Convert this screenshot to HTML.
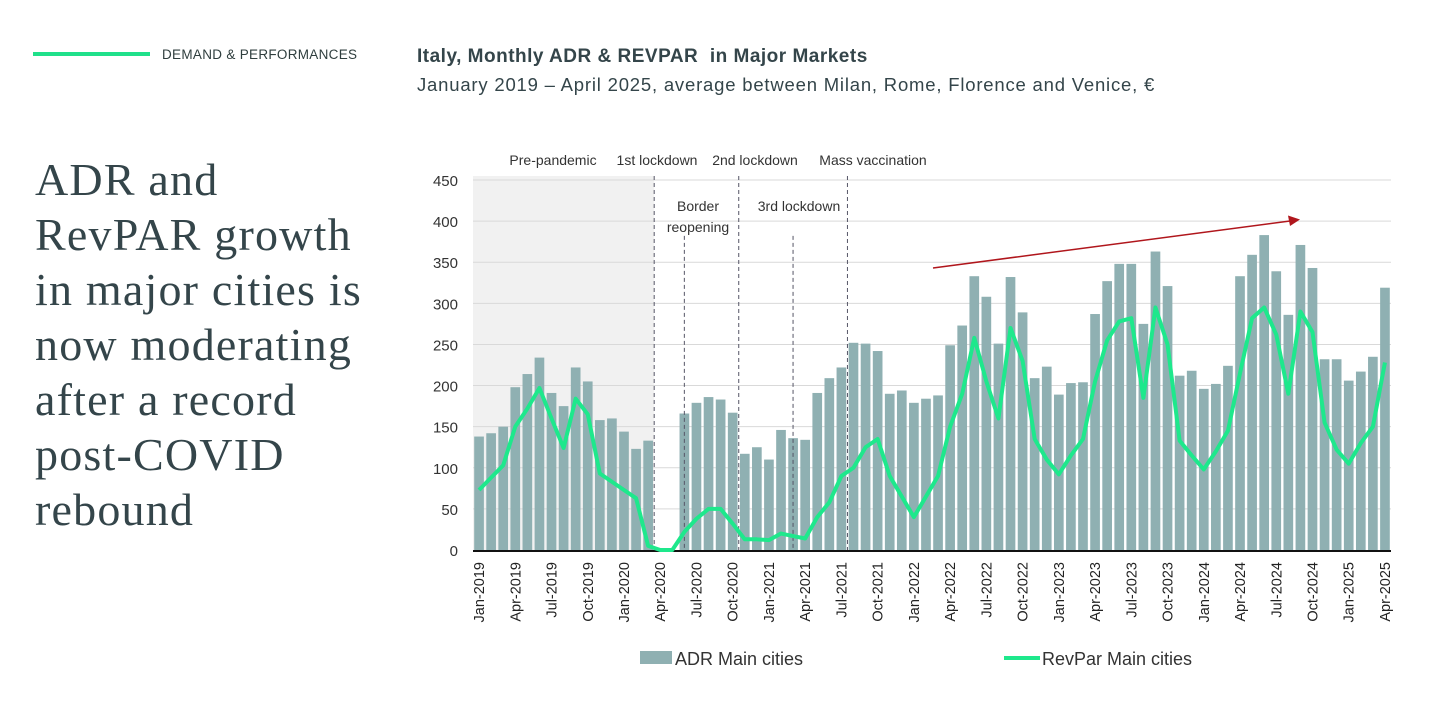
<!DOCTYPE html>
<html><head><meta charset="utf-8"><style>
body{margin:0;width:1456px;height:705px;background:#fff;overflow:hidden;position:relative;font-family:"Liberation Sans",sans-serif;color:#2f3e3e}
.abs{position:absolute}
</style></head><body>
<div class="abs" style="left:33px;top:52px;width:117px;height:4px;background:#1fe08a"></div>
<div class="abs" style="left:162px;top:47px;font-size:13.5px;color:#2f3e3e;letter-spacing:0.3px">DEMAND &amp; PERFORMANCES</div>
<div class="abs" style="left:417px;top:46px;font-size:19px;font-weight:bold;color:#34454a;letter-spacing:0.5px">Italy, Monthly ADR &amp; REVPAR&nbsp; in Major Markets</div>
<div class="abs" style="left:417px;top:74px;font-size:18.5px;color:#34454a;letter-spacing:0.8px">January 2019 – April 2025, average between Milan, Rome, Florence and Venice, €</div>
<div class="abs" style="left:35px;top:152px;font-family:'Liberation Serif',serif;font-size:46px;line-height:55px;color:#34454a;letter-spacing:1.2px">ADR and<br>RevPAR growth<br>in major cities is<br>now moderating<br>after a record<br>post-COVID<br>rebound</div>
<svg class="abs" style="left:0;top:0" width="1456" height="705" id="chart"></svg>
<script>
const months=["Jan","Feb","Mar","Apr","May","Jun","Jul","Aug","Sep","Oct","Nov","Dec"];
const categories=[];for(let y=2019;y<=2025;y++)for(let m=0;m<12;m++){if(y===2025&&m>3)break;categories.push(months[m]+"-"+y);}
const adrValues=[138,142,150,198,214,234,191,175,222,205,158,160,
144,123,133,0,0,166,179,186,183,167,117,125,
110,146,136,134,191,209,222,252,251,242,190,194,
179,184,188,249,273,333,308,251,332,289,209,223,
189,203,204,287,327,348,348,275,363,321,212,218,
196,202,224,333,359,383,339,286,371,343,232,232,
206,217,235,319];
const revparValues=[73,88,103,150,172,197,160,124,184,165,93,83,
73,63,5,0,0,22,38,50,50,32,13,13,
12,20,17,14,40,58,90,100,125,135,90,65,
40,65,90,150,190,258,205,160,270,230,135,110,
92,115,135,205,255,278,282,185,295,250,133,115,
98,120,145,215,282,295,262,190,290,265,155,122,
105,130,150,228];
const yTicks=[0,50,100,150,200,250,300,350,400,450];
const NS="http://www.w3.org/2000/svg";
const svg=document.getElementById('chart');
const X0=473,X1=1391,Y0=550,Y1=180,YMAX=450;
const step=(X1-X0)/categories.length;
const xc=i=>X0+(i+0.5)*step;
const xb=i=>X0+i*step;
const y=v=>Y0-(v/YMAX)*(Y0-Y1);
function mk(t,a,p){const e=document.createElementNS(NS,t);for(const k in a)e.setAttribute(k,a[k]);(p||svg).appendChild(e);return e;}
let sh=mk('rect',{x:X0,y:y(450)-4,width:xb(15)-X0,height:Y0-y(450)+4,fill:'#f1f1f1'});


yTicks.forEach(t=>{
 if(t>0){const g=mk('line',{x1:X0,x2:X1,y1:y(t),y2:y(t),stroke:'#d9d9d9','stroke-width':1});
 
 }
 const l=mk('text',{x:458,y:y(t)+6,'text-anchor':'end','font-size':15,fill:'#333'});l.textContent=t;
 
 
});
adrValues.forEach((v,i)=>{
 const r=mk('rect',{x:xb(i)+1.2,y:y(v),width:step-2.4,height:Y0-y(v),fill:'#8fb0b2'});
 
 
});
const ax=mk('line',{x1:X0,x2:X1,y1:Y0+1,y2:Y0+1,stroke:'#111','stroke-width':2});


const evs=[[15,450],[17,382],[22,450],[26,382],[31,450]];
evs.forEach((e,k)=>{
 const d=mk('line',{x1:xb(e[0])+(k%2?6:0),x2:xb(e[0])+(k%2?6:0),y1:y(e[1])-(e[1]===450?4:0),y2:Y0,stroke:'#556','stroke-width':1,'stroke-dasharray':'4,3'});
 
 
});
const anns=[["Pre-pandemic",553,165],["1st lockdown",657,165],["2nd lockdown",755,165],["Mass vaccination",873,165],["Border",698,211],["reopening",698,232],["3rd lockdown",799,211]];
anns.forEach(a=>{const t=mk('text',{x:a[1],y:a[2],'text-anchor':'middle','font-size':14,fill:'#333'});t.textContent=a[0];
 
 });
const pl=mk('polyline',{points:revparValues.map((v,i)=>xc(i)+','+y(v)).join(' '),fill:'none',stroke:'#1ee88c','stroke-width':4,'stroke-linejoin':'round'});


categories.forEach((c,i)=>{if(i%3)return;
 const t=mk('text',{transform:`translate(${xc(i)+5},562) rotate(-90)`,'text-anchor':'end','font-size':14.5,fill:'#222'});t.textContent=c;
 
 });
const ar=mk('line',{x1:933,y1:268,x2:1290,y2:221,stroke:'#b0161c','stroke-width':1.5});


const ah=mk('polygon',{points:'1300,219.5 1288,215.5 1290,226',fill:'#b0161c'});


const lg=mk('rect',{x:640,y:651,width:32,height:13,fill:'#8fb0b2'});


const lt=mk('text',{x:675,y:665,'font-size':18,fill:'#333'});lt.textContent='ADR Main cities';


const lg2=mk('line',{x1:1004,x2:1040,y1:658,y2:658,stroke:'#1ee88c','stroke-width':4});


const lt2=mk('text',{x:1042,y:665,'font-size':18,fill:'#333'});lt2.textContent='RevPar Main cities';


</script>
</body></html>
